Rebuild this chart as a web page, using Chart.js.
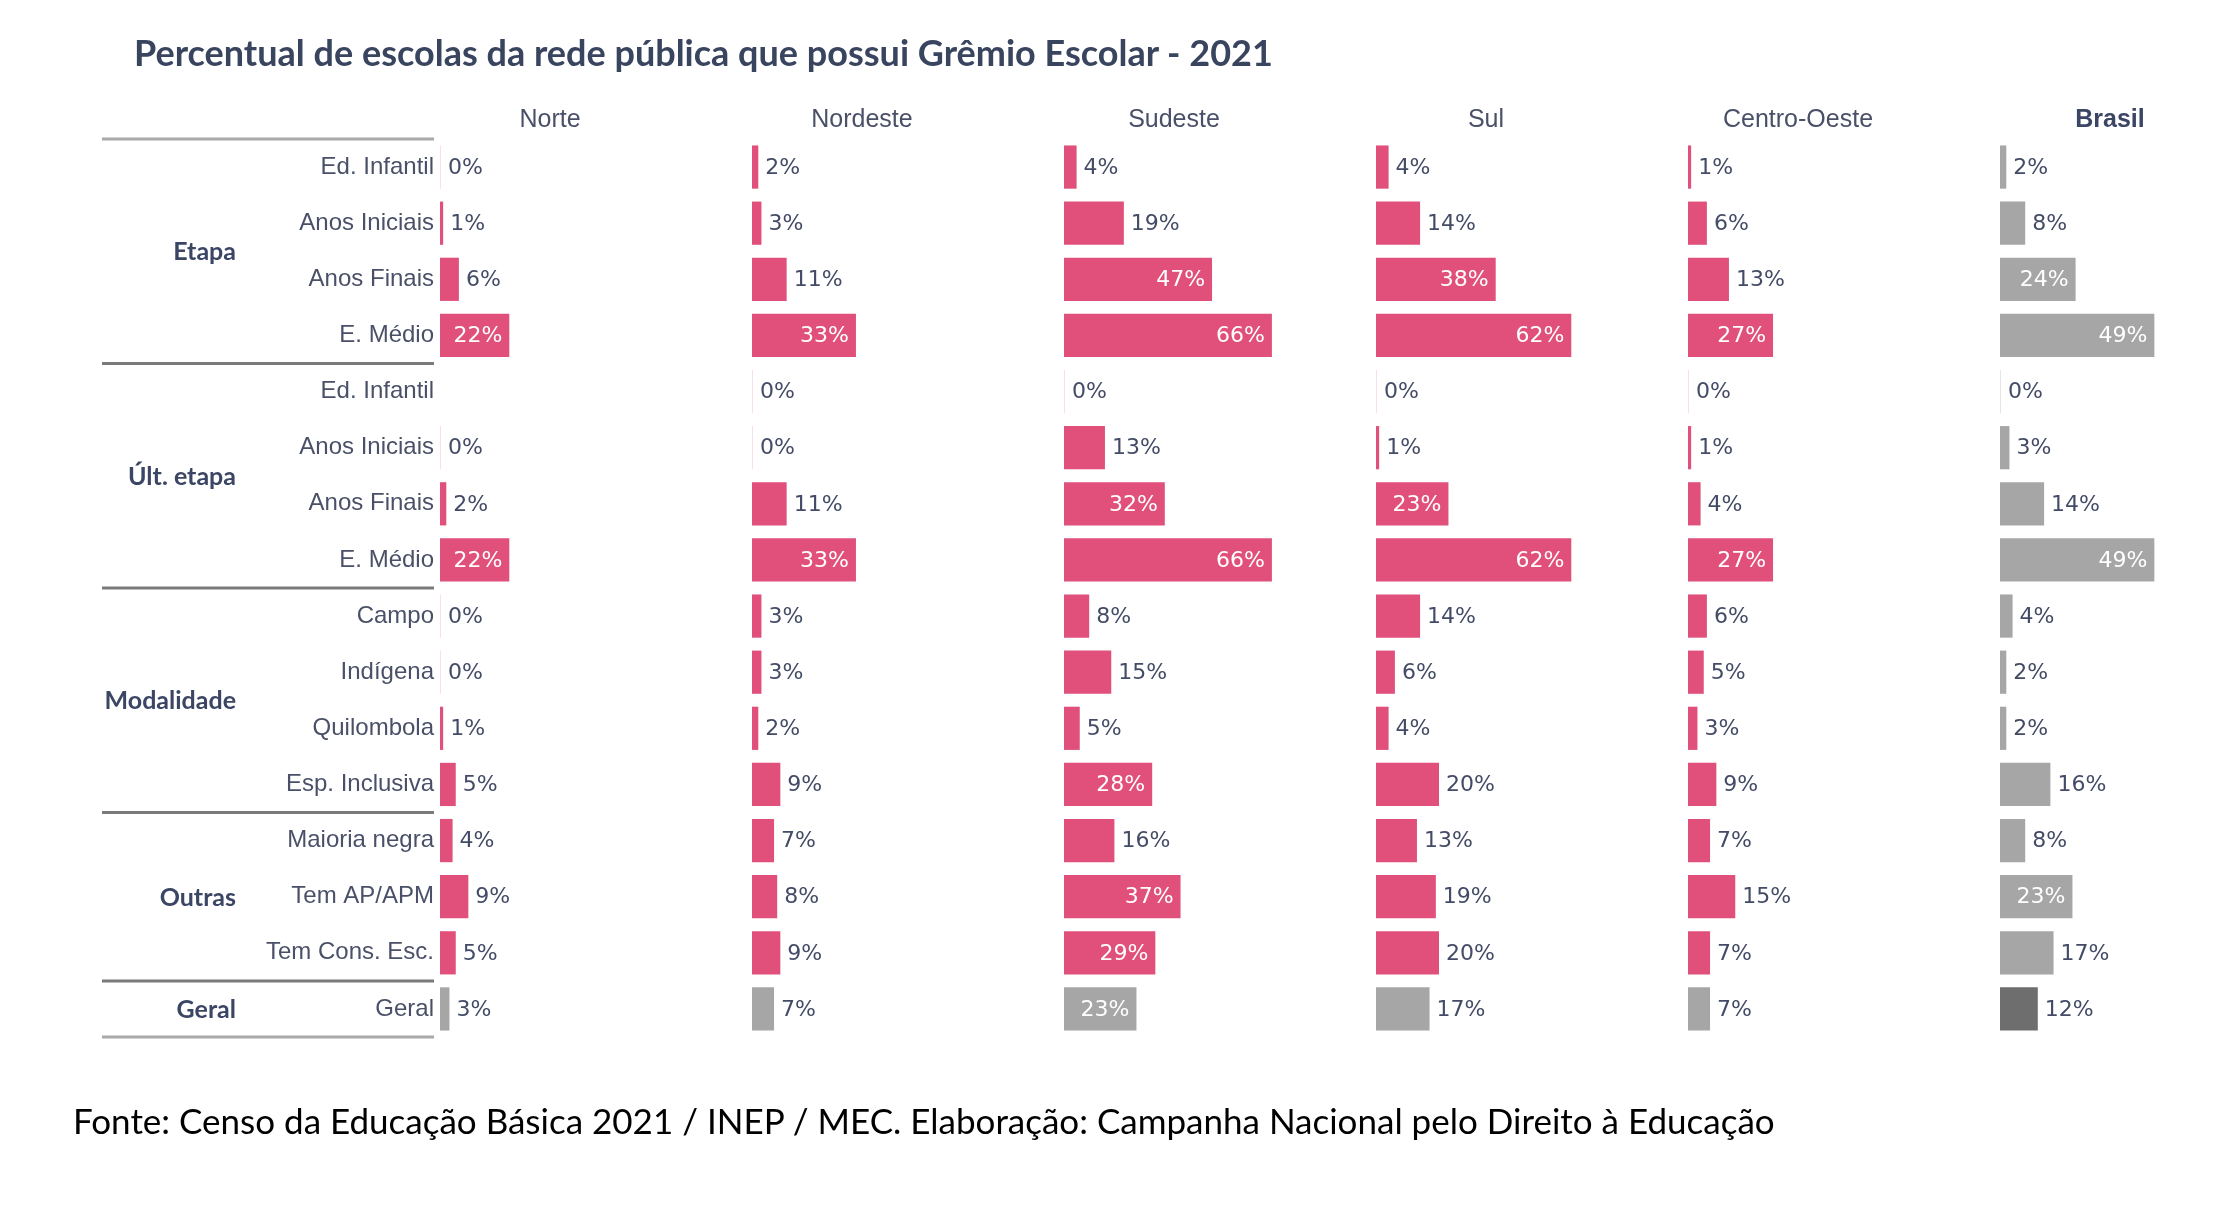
<!DOCTYPE html>
<html>
<head>
<meta charset="utf-8">
<script src="https://cdn.jsdelivr.net/npm/chart.js@4.4.1/dist/chart.umd.min.js"></script>
<style>
  html, body { margin: 0; padding: 0; background: #ffffff; }
  #wrap { position: relative; width: 2218px; height: 1214px; overflow: hidden; background: #fff; }
  #chart-box { position: absolute; left: 0; top: 0; width: 2218px; height: 1214px; }
  #title { position: absolute; left: 134px; top: 30px; font: 700 36px Lato, sans-serif; color: #39445f;
           letter-spacing: 0px; white-space: nowrap; line-height: 44px; }
  #footer { position: absolute; left: 73px; top: 1098px; font: 400 35px Lato, sans-serif; color: #000;
            white-space: nowrap; line-height: 44px; }
</style>
</head>
<body>
<div id="wrap">
  <div id="chart-box"><canvas id="c"></canvas></div>
  <div id="title">Percentual de escolas da rede pública que possui Grêmio Escolar - 2021</div>
  <div id="footer">Fonte: Censo da Educação Básica 2021 / INEP / MEC. Elaboração: Campanha Nacional pelo Direito à Educação</div>
</div>
<script>
// ---------------- DATA ----------------
const categories = ['Ed. Infantil', 'Anos Iniciais', 'Anos Finais', 'E. Médio',
                    'Ed. Infantil', 'Anos Iniciais', 'Anos Finais', 'E. Médio',
                    'Campo', 'Indígena', 'Quilombola', 'Esp. Inclusiva',
                    'Maioria negra', 'Tem AP/APM', 'Tem Cons. Esc.',
                    'Geral'];
const groupNames = ['Etapa', 'Últ. etapa', 'Modalidade', 'Outras', 'Geral'];
const groupSizes = [4, 4, 4, 3, 1];
const regions = ['Norte', 'Nordeste', 'Sudeste', 'Sul', 'Centro-Oeste', 'Brasil'];

const norte       = [0, 1, 6, 22, null, 0, 2, 22, 0, 0, 1, 5, 4, 9, 5, 3];
const nordeste    = [2, 3, 11, 33, 0, 0, 11, 33, 3, 3, 2, 9, 7, 8, 9, 7];
const sudeste     = [4, 19, 47, 66, 0, 13, 32, 66, 8, 15, 5, 28, 16, 37, 29, 23];
const sul         = [4, 14, 38, 62, 0, 1, 23, 62, 14, 6, 4, 20, 13, 19, 20, 17];
const centroOeste = [1, 6, 13, 27, 0, 1, 4, 27, 6, 5, 3, 9, 7, 15, 7, 7];
const brasil      = [2, 8, 24, 49, 0, 3, 14, 49, 4, 2, 2, 16, 8, 23, 17, 12];
const seriesValues = [norte, nordeste, sudeste, sul, centroOeste, brasil];

// ---------------- STYLE / LAYOUT ----------------
const PINK = '#e0507b';
const PINK_ZERO = 'rgba(224,80,123,0.18)';
const GRAY = '#a6a6a6';
const GRAY_ZERO = 'rgba(150,150,150,0.25)';
const DARK_GRAY = '#6e6e6e';
const TEXT = '#434b66';
const pxPerPct = 3.15;
const colWidths = [312, 312, 312, 312, 312, 200];
const insideThreshold = 21;
const geralIndex = categories.length - 1;
const brasilIndex = regions.length - 1;

function barColor(k, i, v) {
  const isBrasil = k === brasilIndex;
  const isGeral = i === geralIndex;
  if (v === 0) return isBrasil || isGeral ? GRAY_ZERO : PINK_ZERO;
  if (isBrasil && isGeral) return DARK_GRAY;
  if (isBrasil || isGeral) return GRAY;
  return PINK;
}

const decorPlugin = {
  id: 'decor',
  afterDatasetsDraw(chart) {
    const ctx = chart.ctx;
    ctx.save();
    ctx.font = '22px "DejaVu Sans"';
    ctx.textBaseline = 'middle';
    chart.data.datasets.forEach((ds, di) => {
      const meta = chart.getDatasetMeta(di);
      meta.data.forEach((bar, i) => {
        const v = ds.data[i];
        if (v === null || v === undefined) return;
        const txt = v + '%';
        if (v >= insideThreshold) {
          ctx.fillStyle = '#ffffff';
          ctx.textAlign = 'right';
          ctx.fillText(txt, bar.x - 7, bar.y + 1);
        } else {
          ctx.fillStyle = TEXT;
          ctx.textAlign = 'left';
          ctx.fillText(txt, bar.x + 7, bar.y + 1);
        }
      });
    });
    ctx.restore();
  },
  afterDraw(chart) {
    const ctx = chart.ctx;
    const y = chart.scales.y;
    const half = (y.getPixelForValue(1) - y.getPixelForValue(0)) / 2;
    ctx.save();
    // separators
    const bounds = [0];
    let acc = 0;
    groupSizes.forEach(s => { acc += s; bounds.push(acc); });
    bounds.forEach((b, k) => {
      const py = b < categories.length ? y.getPixelForValue(b) - half : y.getPixelForValue(b - 1) + half;
      ctx.strokeStyle = (k === 0 || k === bounds.length - 1) ? '#a9a9a9' : '#7a7a7a';
      ctx.lineWidth = 3;
      ctx.beginPath();
      ctx.moveTo(102, py);
      ctx.lineTo(434, py);
      ctx.stroke();
    });
    // group labels
    ctx.font = '700 25px Lato';
    ctx.fillStyle = '#3b4564';
    ctx.textAlign = 'right';
    ctx.textBaseline = 'middle';
    let start = 0;
    groupSizes.forEach((s, k) => {
      const py = (y.getPixelForValue(start) + y.getPixelForValue(start + s - 1)) / 2;
      ctx.fillText(groupNames[k], 236, py + 1);
      start += s;
    });
    // column headers
    regions.forEach((r, k) => {
      const sc = chart.scales['x' + k];
      ctx.font = (k === brasilIndex ? '700 ' : '400 ') + '25px "Liberation Sans"';
      ctx.fillStyle = k === brasilIndex ? '#3b4564' : '#4a5068';
      ctx.textAlign = 'center';
      ctx.fillText(r, sc.left + 110, 120);
    });
    ctx.restore();
  }
};

const scales = {
  y: {
    type: 'category',
    position: 'left',
    grid: { display: false, drawTicks: false },
    border: { display: false },
    ticks: { font: { family: 'Liberation Sans', size: 24 }, color: '#4a5068', padding: 6, autoSkip: false },
    afterFit(s) { s.width = 440; }
  }
};
regions.forEach((r, k) => {
  scales['x' + k] = {
    type: 'linear',
    position: 'top',
    stack: 'cols',
    stackWeight: colWidths[k],
    weight: regions.length - k,
    min: 0,
    max: colWidths[k] / pxPerPct,
    grid: { display: false, drawTicks: false },
    border: { display: false },
    ticks: { display: false },
    title: { display: false }
  };
});

function build() {
  new Chart(document.getElementById('c'), {
    type: 'bar',
    data: {
      labels: categories,
      datasets: regions.map((r, k) => ({
        label: r,
        data: seriesValues[k],
        xAxisID: 'x' + k,
        yAxisID: 'y',
        grouped: false,
        categoryPercentage: 1,
        barPercentage: 0.77,
        minBarLength: 1,
        borderWidth: 0,
        backgroundColor: (c) => barColor(k, c.dataIndex, c.raw)
      }))
    },
    options: {
      indexAxis: 'y',
      responsive: true,
      maintainAspectRatio: false,
      animation: false,
      layout: { padding: { top: 139, right: 18, bottom: 177, left: 0 } },
      plugins: { legend: { display: false }, tooltip: { enabled: false }, title: { display: false } },
      scales
    },
    plugins: [decorPlugin]
  });
}
if (document.fonts && document.fonts.ready) { document.fonts.ready.then(build); } else { build(); }
</script>
</body>
</html>
